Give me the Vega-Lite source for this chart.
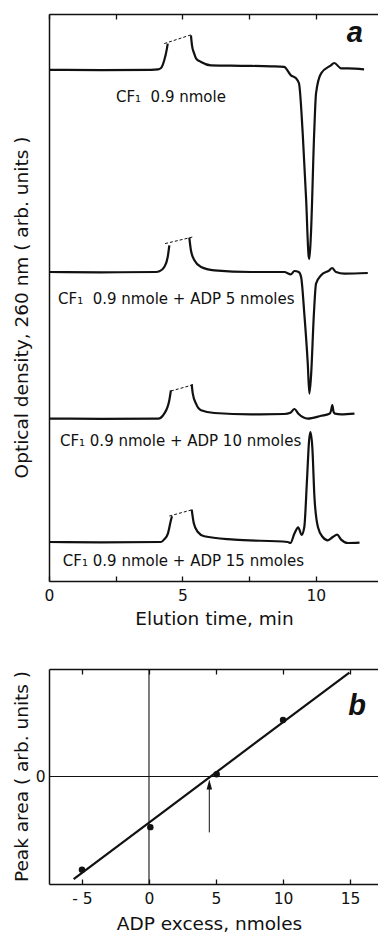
{
  "$schema": "https://vega.github.io/schema/vega-lite/v6.json",
  "background": "white",
  "padding": {"left": 11, "top": 13, "right": 0, "bottom": 0},
  "bounds": "flush",
  "spacing": 88,
  "config": {
    "view": {"stroke": null},
    "font": "DejaVu Sans",
    "axis": {"domainColor": "#111", "domainWidth": 1.5, "tickColor": "#111", "tickWidth": 1.3, "labelColor": "#111", "titleColor": "#111", "labelFont": "DejaVu Sans", "titleFont": "DejaVu Sans", "grid": false, "labelFlush": false, "titleFontWeight": "normal", "labelFontSize": 15.5, "titleFontSize": 18.5}
  },
  "datasets": {
    "traces": [
      {"seg": "1a", "kind": "s", "t": 0, "h": 511.2}, {"seg": "1a", "kind": "s", "t": 1.95, "h": 510.9}, {"seg": "1a", "kind": "s", "t": 3.83, "h": 511.2}, {"seg": "1a", "kind": "s", "t": 4.09, "h": 511.7}, {"seg": "1a", "kind": "s", "t": 4.2, "h": 513}, {"seg": "1a", "kind": "s", "t": 4.32, "h": 520.7}, {"seg": "1a", "kind": "s", "t": 4.42, "h": 532.4}, {"seg": "1a", "kind": "s", "t": 4.45, "h": 537.4},
      {"seg": "1d", "kind": "d", "t": 4.32, "h": 537.4}, {"seg": "1d", "kind": "d", "t": 5.35, "h": 546.4},
      {"seg": "1b", "kind": "s", "t": 5.32, "h": 545.7}, {"seg": "1b", "kind": "s", "t": 5.36, "h": 535.7}, {"seg": "1b", "kind": "s", "t": 5.44, "h": 527.7}, {"seg": "1b", "kind": "s", "t": 5.51, "h": 522.7}, {"seg": "1b", "kind": "s", "t": 5.7, "h": 519}, {"seg": "1b", "kind": "s", "t": 6.07, "h": 515.7}, {"seg": "1b", "kind": "s", "t": 7.2, "h": 515.2}, {"seg": "1b", "kind": "s", "t": 8.32, "h": 514.7}, {"seg": "1b", "kind": "s", "t": 8.81, "h": 514.2}, {"seg": "1b", "kind": "s", "t": 9.07, "h": 505.7}, {"seg": "1b", "kind": "s", "t": 9.26, "h": 502.7}, {"seg": "1b", "kind": "s", "t": 9.37, "h": 497.7}, {"seg": "1b", "kind": "s", "t": 9.51, "h": 447.7}, {"seg": "1b", "kind": "s", "t": 9.64, "h": 380.7}, {"seg": "1b", "kind": "s", "t": 9.73, "h": 325.7}, {"seg": "1b", "kind": "s", "t": 9.76, "h": 322.2}, {"seg": "1b", "kind": "s", "t": 9.82, "h": 347.7}, {"seg": "1b", "kind": "s", "t": 9.94, "h": 447.7}, {"seg": "1b", "kind": "s", "t": 10.01, "h": 487.7}, {"seg": "1b", "kind": "s", "t": 10.2, "h": 507.7}, {"seg": "1b", "kind": "s", "t": 10.57, "h": 515.7}, {"seg": "1b", "kind": "s", "t": 10.69, "h": 518}, {"seg": "1b", "kind": "s", "t": 10.95, "h": 512.7}, {"seg": "1b", "kind": "s", "t": 11.21, "h": 512.7}, {"seg": "1b", "kind": "s", "t": 11.81, "h": 511.7},

      {"seg": "2a", "kind": "s", "t": 0, "h": 309}, {"seg": "2a", "kind": "s", "t": 1.95, "h": 308.7}, {"seg": "2a", "kind": "s", "t": 4.01, "h": 309}, {"seg": "2a", "kind": "s", "t": 4.14, "h": 309.7}, {"seg": "2a", "kind": "s", "t": 4.32, "h": 314}, {"seg": "2a", "kind": "s", "t": 4.45, "h": 324}, {"seg": "2a", "kind": "s", "t": 4.51, "h": 335.7},
      {"seg": "2d", "kind": "d", "t": 4.35, "h": 337.4}, {"seg": "2d", "kind": "d", "t": 5.39, "h": 344},
      {"seg": "2b", "kind": "s", "t": 5.26, "h": 343.4}, {"seg": "2b", "kind": "s", "t": 5.32, "h": 330.7}, {"seg": "2b", "kind": "s", "t": 5.45, "h": 320.7}, {"seg": "2b", "kind": "s", "t": 5.7, "h": 314}, {"seg": "2b", "kind": "s", "t": 6.2, "h": 310.7}, {"seg": "2b", "kind": "s", "t": 7.57, "h": 309}, {"seg": "2b", "kind": "s", "t": 8.82, "h": 309}, {"seg": "2b", "kind": "s", "t": 9.07, "h": 306.7}, {"seg": "2b", "kind": "s", "t": 9.2, "h": 310}, {"seg": "2b", "kind": "s", "t": 9.36, "h": 309}, {"seg": "2b", "kind": "s", "t": 9.45, "h": 304}, {"seg": "2b", "kind": "s", "t": 9.57, "h": 267.4}, {"seg": "2b", "kind": "s", "t": 9.7, "h": 217.4}, {"seg": "2b", "kind": "s", "t": 9.76, "h": 187.4}, {"seg": "2b", "kind": "s", "t": 9.82, "h": 204}, {"seg": "2b", "kind": "s", "t": 9.93, "h": 267.4}, {"seg": "2b", "kind": "s", "t": 10.01, "h": 297.4}, {"seg": "2b", "kind": "s", "t": 10.2, "h": 305.7}, {"seg": "2b", "kind": "s", "t": 10.51, "h": 310.7}, {"seg": "2b", "kind": "s", "t": 10.61, "h": 313}, {"seg": "2b", "kind": "s", "t": 10.76, "h": 309}, {"seg": "2b", "kind": "s", "t": 11.07, "h": 307.4}, {"seg": "2b", "kind": "s", "t": 11.95, "h": 308},

      {"seg": "3a", "kind": "s", "t": 0, "h": 162.4}, {"seg": "3a", "kind": "s", "t": 1.95, "h": 162.2}, {"seg": "3a", "kind": "s", "t": 4.09, "h": 162.4}, {"seg": "3a", "kind": "s", "t": 4.32, "h": 167.4}, {"seg": "3a", "kind": "s", "t": 4.51, "h": 180.7}, {"seg": "3a", "kind": "s", "t": 4.57, "h": 190.7},
      {"seg": "3d", "kind": "d", "t": 4.57, "h": 190}, {"seg": "3d", "kind": "d", "t": 5.43, "h": 196.4},
      {"seg": "3b", "kind": "s", "t": 5.35, "h": 196.7}, {"seg": "3b", "kind": "s", "t": 5.39, "h": 187.4}, {"seg": "3b", "kind": "s", "t": 5.51, "h": 177.4}, {"seg": "3b", "kind": "s", "t": 5.7, "h": 170.7}, {"seg": "3b", "kind": "s", "t": 6.2, "h": 168}, {"seg": "3b", "kind": "s", "t": 7.57, "h": 166.7}, {"seg": "3b", "kind": "s", "t": 8.82, "h": 167}, {"seg": "3b", "kind": "s", "t": 9.05, "h": 168.2}, {"seg": "3b", "kind": "s", "t": 9.2, "h": 172}, {"seg": "3b", "kind": "s", "t": 9.35, "h": 167.2}, {"seg": "3b", "kind": "s", "t": 9.7, "h": 162.4}, {"seg": "3b", "kind": "s", "t": 10.2, "h": 165.2}, {"seg": "3b", "kind": "s", "t": 10.51, "h": 167.2}, {"seg": "3b", "kind": "s", "t": 10.57, "h": 170}, {"seg": "3b", "kind": "s", "t": 10.62, "h": 176}, {"seg": "3b", "kind": "s", "t": 10.67, "h": 169}, {"seg": "3b", "kind": "s", "t": 10.72, "h": 167.4}, {"seg": "3b", "kind": "s", "t": 10.95, "h": 166.7}, {"seg": "3b", "kind": "s", "t": 11.45, "h": 167.4},

      {"seg": "4a", "kind": "s", "t": 0, "h": 39}, {"seg": "4a", "kind": "s", "t": 1.95, "h": 38.7}, {"seg": "4a", "kind": "s", "t": 4.2, "h": 39}, {"seg": "4a", "kind": "s", "t": 4.32, "h": 41.7}, {"seg": "4a", "kind": "s", "t": 4.46, "h": 47.7}, {"seg": "4a", "kind": "s", "t": 4.57, "h": 60.7}, {"seg": "4a", "kind": "s", "t": 4.61, "h": 64.7},
      {"seg": "4d", "kind": "d", "t": 4.51, "h": 65}, {"seg": "4d", "kind": "d", "t": 5.39, "h": 71.4},
      {"seg": "4b", "kind": "s", "t": 5.35, "h": 71.4}, {"seg": "4b", "kind": "s", "t": 5.43, "h": 57.4}, {"seg": "4b", "kind": "s", "t": 5.58, "h": 49}, {"seg": "4b", "kind": "s", "t": 5.82, "h": 44.7}, {"seg": "4b", "kind": "s", "t": 6.95, "h": 41.4}, {"seg": "4b", "kind": "s", "t": 8.95, "h": 39}, {"seg": "4b", "kind": "s", "t": 9.05, "h": 38}, {"seg": "4b", "kind": "s", "t": 9.2, "h": 47.4}, {"seg": "4b", "kind": "s", "t": 9.34, "h": 53.7}, {"seg": "4b", "kind": "s", "t": 9.47, "h": 46.2}, {"seg": "4b", "kind": "s", "t": 9.57, "h": 54}, {"seg": "4b", "kind": "s", "t": 9.67, "h": 100.7}, {"seg": "4b", "kind": "s", "t": 9.75, "h": 140.7}, {"seg": "4b", "kind": "s", "t": 9.8, "h": 149}, {"seg": "4b", "kind": "s", "t": 9.87, "h": 134}, {"seg": "4b", "kind": "s", "t": 9.95, "h": 84}, {"seg": "4b", "kind": "s", "t": 10.08, "h": 54}, {"seg": "4b", "kind": "s", "t": 10.26, "h": 44}, {"seg": "4b", "kind": "s", "t": 10.45, "h": 40.7}, {"seg": "4b", "kind": "s", "t": 10.64, "h": 44}, {"seg": "4b", "kind": "s", "t": 10.8, "h": 46.4}, {"seg": "4b", "kind": "s", "t": 10.95, "h": 41.4}, {"seg": "4b", "kind": "s", "t": 11.2, "h": 38}, {"seg": "4b", "kind": "s", "t": 11.64, "h": 38.4}
    ],
    "tracelabels": [
      {"t": 2.51, "h": 479, "label": "CF₁\u00a0 0.9 nmole"},
      {"t": 0.34, "h": 276.7, "label": "CF₁\u00a0 0.9 nmole + ADP 5 nmoles"},
      {"t": 0.41, "h": 134.7, "label": "CF₁ 0.9 nmole + ADP 10 nmoles"},
      {"t": 0.52, "h": 14.7, "label": "CF₁ 0.9 nmole + ADP 15 nmoles"}
    ],
    "panelA": [{"t": 11.46, "h": 539, "label": "a"}],
    "panelB": [{"x": 15.52, "y": 0.574, "label": "b"}],
    "points": [
      {"x": -5, "y": -0.868}, {"x": 0.1, "y": -0.471}, {"x": 5.05, "y": 0.022}, {"x": 10, "y": 0.525}
    ],
    "fit": [{"x": -5.62, "y": -0.954}, {"x": 14.95, "y": 0.967}],
    "vline": [{"x": 0}],
    "hline": [{"y": 0}],
    "arrow": [{"x": 4.5, "y": -0.52, "y2": -0.08}],
    "arrowhead": [{"x": 4.5, "y": -0.075}]
  },
  "vconcat": [
    {
      "width": 330,
      "height": 567,
      "resolve": {"axis": {"x": "independent", "y": "independent"}},
      "layer": [
        {
          "layer": [
            {
              "data": {"name": "tracelabels"},
              "mark": {"type": "text", "align": "left", "baseline": "alphabetic", "font": "DejaVu Sans", "fontSize": 15, "color": "#111"},
              "encoding": {
                "x": {"field": "t", "type": "quantitative", "scale": {"domain": [0, 12.37], "nice": false, "zero": false}, "axis": null},
                "y": {"field": "h", "type": "quantitative", "scale": {"domain": [0, 567], "nice": false}, "axis": null},
                "text": {"field": "label"}
              }
            },
            {
              "data": {"name": "panelA"},
              "mark": {"type": "text", "align": "center", "baseline": "alphabetic", "font": "Liberation Sans", "fontSize": 29, "fontWeight": "bold", "fontStyle": "italic", "color": "#111"},
              "encoding": {
                "x": {"field": "t", "type": "quantitative", "axis": null},
                "y": {"field": "h", "type": "quantitative", "axis": null},
                "text": {"field": "label"}
              }
            }
          ]
        },
        {
          "data": {"name": "traces"},
          "transform": [{"filter": "datum.kind == 's'"}],
          "mark": {"type": "line", "color": "#111", "strokeWidth": 2.2, "interpolate": "monotone"},
          "encoding": {
            "x": {"field": "t", "type": "quantitative",
              "axis": {"orient": "bottom", "values": [0, 2.5, 5, 7.5, 10], "tickSize": -5, "labelPadding": 12.5, "labelExpr": "datum.value % 5 == 0 ? datum.label : ''", "title": "Elution time, min", "titleBaseline": "top", "titleY": 28}},
            "y": {"field": "h", "type": "quantitative",
              "axis": {"orient": "left", "ticks": false, "labels": false, "title": "Optical density, 260 nm ( arb. units )", "titleAngle": -90, "titleBaseline": "alphabetic", "titleAlign": "center", "titleX": -22, "titleY": 293}},
            "detail": {"field": "seg"}
          }
        },
        {
          "data": {"name": "traces"},
          "transform": [{"filter": "datum.kind == 'd'"}],
          "mark": {"type": "line", "color": "#111", "strokeWidth": 1, "strokeDash": [3, 2]},
          "encoding": {
            "x": {"field": "t", "type": "quantitative", "axis": {"orient": "top", "values": [0, 2.5, 5, 7.5, 10], "tickSize": -5, "labels": false, "title": null}},
            "y": {"field": "h", "type": "quantitative", "axis": null},
            "detail": {"field": "seg"}
          }
        }
      ]
    },
    {
      "width": 330,
      "height": 215,
      "resolve": {"axis": {"x": "independent", "y": "independent"}},
      "layer": [
        {
          "layer": [
            {
              "data": {"name": "vline"},
              "mark": {"type": "rule", "color": "#111", "strokeWidth": 1.1},
              "encoding": {"x": {"field": "x", "type": "quantitative", "scale": {"domain": [-7.46, 17.16], "nice": false, "zero": false}, "axis": null}}
            },
            {
              "data": {"name": "hline"},
              "mark": {"type": "rule", "color": "#111", "strokeWidth": 1.1},
              "encoding": {"y": {"field": "y", "type": "quantitative", "scale": {"domain": [-1, 1], "nice": false}, "axis": null}}
            },
            {
              "data": {"name": "arrow"},
              "mark": {"type": "rule", "color": "#111", "strokeWidth": 1},
              "encoding": {
                "x": {"field": "x", "type": "quantitative", "axis": null},
                "y": {"field": "y", "type": "quantitative", "axis": null},
                "y2": {"field": "y2"}
              }
            },
            {
              "data": {"name": "arrowhead"},
              "mark": {"type": "point", "filled": true, "color": "#111", "opacity": 1, "size": 100, "shape": "M0,-1L0.55,1L-0.55,1Z"},
              "encoding": {
                "x": {"field": "x", "type": "quantitative", "axis": null},
                "y": {"field": "y", "type": "quantitative", "axis": null}
              }
            },
            {
              "data": {"name": "panelB"},
              "mark": {"type": "text", "align": "center", "baseline": "alphabetic", "font": "Liberation Sans", "fontSize": 29, "fontWeight": "bold", "fontStyle": "italic", "color": "#111"},
              "encoding": {
                "x": {"field": "x", "type": "quantitative", "axis": null},
                "y": {"field": "y", "type": "quantitative", "axis": null},
                "text": {"field": "label"}
              }
            }
          ]
        },
        {
          "data": {"name": "fit"},
          "mark": {"type": "line", "color": "#111", "strokeWidth": 2.2},
          "encoding": {
            "x": {"field": "x", "type": "quantitative",
              "axis": {"orient": "bottom", "values": [-5, 0, 5, 10, 15], "tickSize": -5, "labelPadding": 12.5, "labelExpr": "datum.value < 0 ? '-\u00a05\u00a0\u00a0' : datum.label", "title": "ADP excess, nmoles", "titleBaseline": "top", "titleY": 30, "titleX": 160}},
            "y": {"field": "y", "type": "quantitative",
              "axis": {"orient": "left", "values": [0], "ticks": false, "labelPadding": 4, "title": "Peak area ( arb. units )", "titleAngle": -90, "titleBaseline": "alphabetic", "titleAlign": "center", "titleX": -22, "titleY": 107}}
          }
        },
        {
          "data": {"name": "points"},
          "mark": {"type": "point", "filled": true, "color": "#111", "size": 42, "opacity": 1},
          "encoding": {
            "x": {"field": "x", "type": "quantitative", "axis": {"orient": "top", "values": [-5, 0, 5, 10, 15], "tickSize": -5, "labels": false, "title": null}},
            "y": {"field": "y", "type": "quantitative", "axis": null}
          }
        }
      ]
    }
  ]
}
